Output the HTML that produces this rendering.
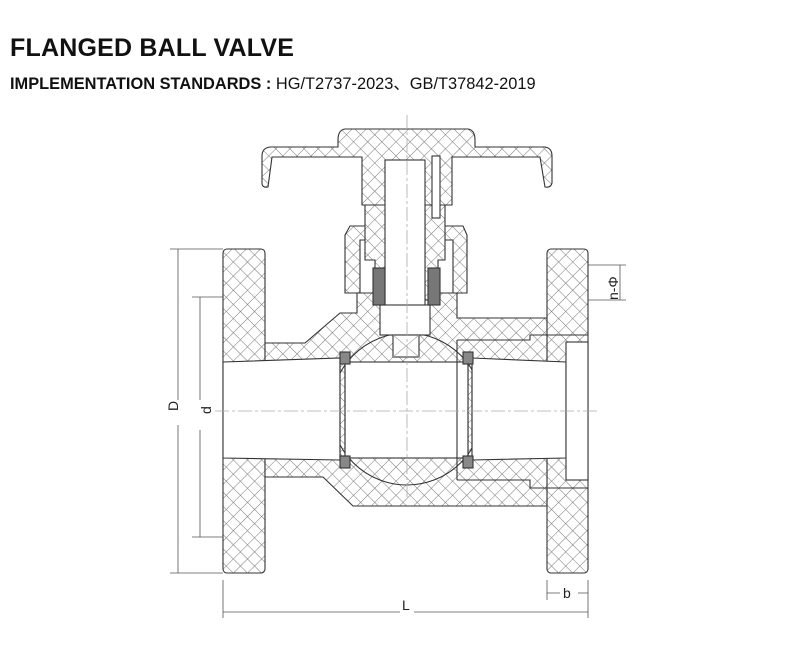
<!DOCTYPE html><html><head><meta charset="utf-8"><style>
body{margin:0;background:#fff;width:800px;height:652px;overflow:hidden;font-family:"Liberation Sans",sans-serif}
h1{position:absolute;left:10px;top:34px;margin:0;font-size:25px;font-weight:bold;color:#111;letter-spacing:0.2px}
.sub{position:absolute;left:10px;top:70px;font-size:16.4px;color:#111}
</style></head><body>
<h1>FLANGED BALL VALVE</h1>
<div class="sub"><b>IMPLEMENTATION STANDARDS :</b> HG/T2737-2023、GB/T37842-2019</div>
<svg width="800" height="652" style="position:absolute;left:0;top:0" font-family="Liberation Sans, sans-serif">
<defs><pattern id="h" width="10" height="10" patternUnits="userSpaceOnUse" patternTransform="rotate(45)">
<rect width="10" height="10" fill="#fff"/><path d="M0 0V10M0 0H10" stroke="#777" stroke-width="1"/></pattern></defs>
<g stroke="#333" stroke-width="1.1" fill="url(#h)">
<rect x="223" y="249" width="42" height="324" rx="4"/>
<rect x="547" y="249" width="41" height="324" rx="4"/>
<path d="M265 343H305L340 313H357V293H457V318H547V506H353L323 477H265Z"/>
<path d="M350 226H372V240H360V293H345V235Z M463 226H441V240H453V293H467V235Z"/>
<path d="M365 205H392V300H375V260H365Z M445 205H425V300H438V260H445Z"/>
<path d="M345 129H468Q475 130 475 140V147H545Q552 148 552 156V183Q551 188 545 187L540 157H452V205H362V157H272L268 187Q262 188 262 183V156Q262 148 270 147H338V140Q338 130 345 129Z"/>
<circle cx="407" cy="409" r="76"/>
<rect x="385" y="160" width="40" height="150" fill="#fff"/>
<rect x="380" y="305" width="50" height="30" fill="#fff"/>
<rect x="393" y="335" width="26" height="22" fill="#fff"/>
<path d="M393 335L419 357M419 335L393 357" stroke="#aaa" stroke-width="0.8" fill="none"/>
<rect x="432" y="156" width="8" height="62" fill="#fff"/>
<rect x="373" y="268" width="12" height="37" fill="#777"/>
<rect x="428" y="268" width="12" height="37" fill="#777"/>
<path d="M223 362L340 358V460L223 458Z M472 358L566 362V458L472 460Z" fill="#fff"/>
<rect x="566" y="342" width="22" height="138" fill="#fff"/>
<rect x="345" y="362" width="123" height="96" fill="#fff"/>
<path d="M340 362V458M345 362V458M468 362V458M472 362V458" fill="none"/>
<rect x="340" y="352" width="10" height="12" fill="#888"/>
<rect x="340" y="456" width="10" height="12" fill="#888"/>
<rect x="463" y="352" width="10" height="12" fill="#888"/>
<rect x="463" y="456" width="10" height="12" fill="#888"/>
<path d="M457 340H530V335H588M457 480H530V488H588M457 340V480" fill="none"/>
</g>
<g stroke="#aaa" stroke-width="0.8" stroke-dasharray="14 3 3 3" fill="none">
<path d="M407 115V500M215 411H600"/>
</g>
<g stroke="#555" stroke-width="0.8" fill="none">
<path d="M170 249H223M170 573H223M192 297H223M192 537H223M178 249V400M178 425V573M200 297V400M200 430V537"/>
<path d="M223 580V618M588 580V618M547 580V600M223 612H400M414 612H588M547 593H560M578 593H588"/>
<path d="M588 265H626M588 300H626M620 265V300"/>
</g>
<g fill="#222" font-size="14">
<text x="172" y="417" transform="rotate(-90 172 411)">D</text>
<text x="205" y="420" transform="rotate(-90 205 414)">d</text>
<text x="402" y="610">L</text>
<text x="563" y="598">b</text>
<text x="618" y="300" transform="rotate(-90 618 300)">n-Φ</text>
</g>
</svg>
</body></html>
